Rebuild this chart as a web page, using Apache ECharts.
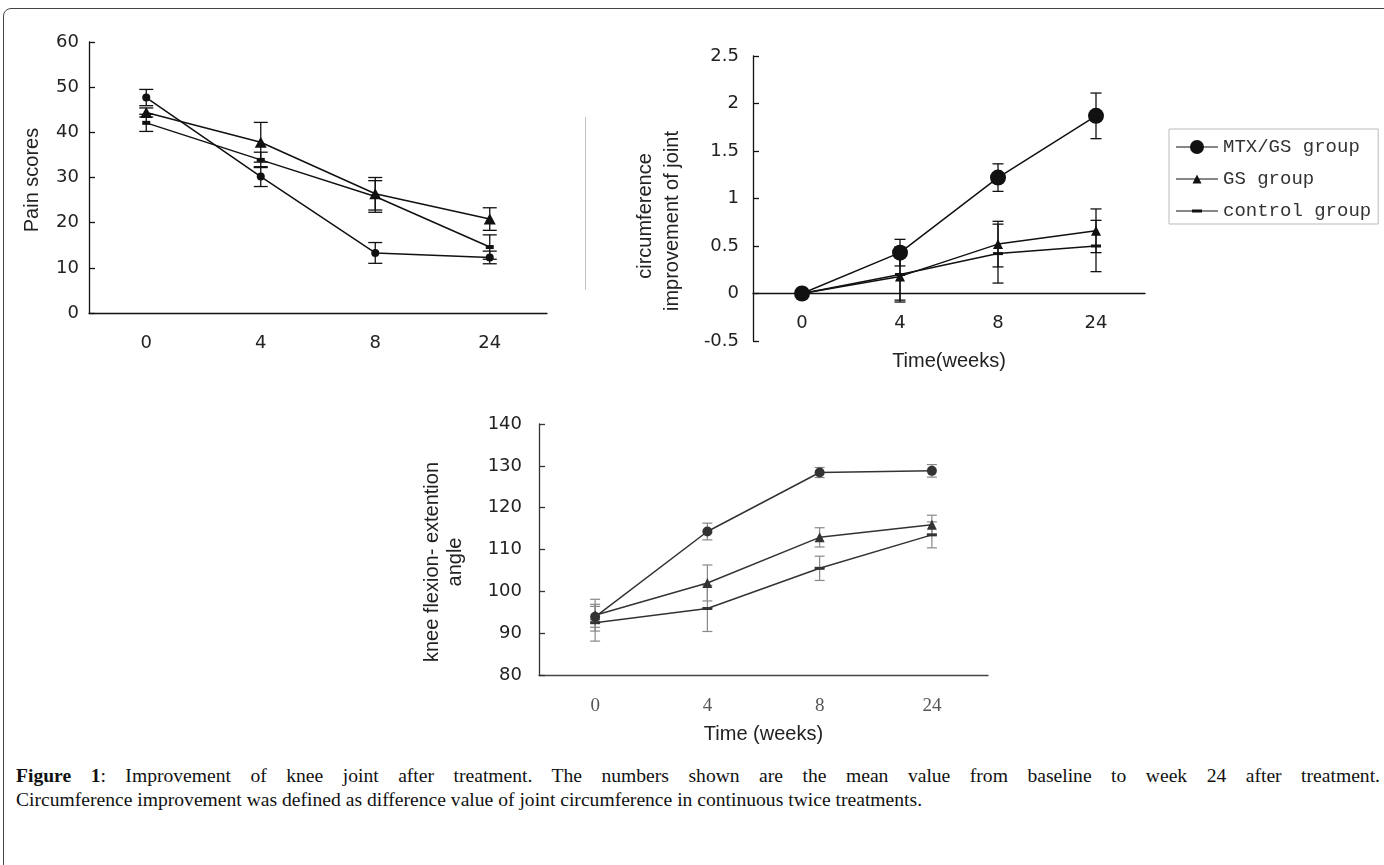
<!DOCTYPE html>
<html>
<head>
<meta charset="utf-8">
<script src="https://cdn.jsdelivr.net/npm/echarts@6/dist/echarts.min.js"></script>
<style>
html, body { margin: 0; width: 1384px; height: 865px; overflow: hidden; background: #fff; }
#frame { position: absolute; left: 3px; top: 8px; width: 1420px; height: 900px; border: 1.5px solid #444; border-radius: 8px; }
#chart { position: absolute; left: 0; top: 0; width: 1384px; height: 745px; }
#caption { position: absolute; left: 16px; top: 764px; width: 1364px; font-family: 'Liberation Serif', serif; font-size: 19.6px; line-height: 24px; color: #111; }
#caption .l1 { text-align: justify; text-align-last: justify; white-space: nowrap; }
</style>
</head>
<body>
<div id="frame"></div>
<div id="chart"></div>
<div id="caption">
  <div class="l1"><b>Figure 1</b>: Improvement of knee joint after treatment. The numbers shown are the mean value from baseline to week 24 after treatment.</div>
  <div>Circumference improvement was defined as difference value of joint circumference in continuous twice treatments.</div>
</div>
<script>
const weeks = ['0', '4', '8', '24'];
const groups = ['MTX/GS group', 'GS group', 'control group'];

// pain scores
const painMtx = [47.7, 30.2, 13.3, 12.3];
const painMtxErr = [1.8, 2.2, 2.3, 1.4];
const painGs = [44.4, 37.8, 26.4, 20.8];
const painGsErr = [1.0, 4.4, 3.6, 2.5];
const painCtrl = [42.1, 33.9, 25.8, 14.6];
const painCtrlErr = [1.9, 1.7, 3.5, 2.7];

// circumference improvement of joint
const circMtx = [0, 0.43, 1.22, 1.87];
const circMtxErr = [0, 0.14, 0.145, 0.24];
const circGs = [0, 0.18, 0.52, 0.66];
const circGsErr = [0, 0.25, 0.24, 0.23];
const circCtrl = [0, 0.20, 0.42, 0.50];
const circCtrlErr = [0, 0.29, 0.31, 0.27];

// knee flexion-extention angle
const angleMtx = [93.9, 114.3, 128.4, 128.8];
const angleMtxErr = [2.5, 2.0, 1.2, 1.5];
const angleGs = [94.3, 102.0, 112.9, 115.9];
const angleGsErr = [3.8, 4.3, 2.3, 2.3];
const angleCtrl = [92.5, 95.9, 105.5, 113.5];
const angleCtrlErr = [4.4, 5.5, 2.9, 3.1];

const sans = 'DejaVu Sans';

function catAxis(gi, opts) {
  return {
    gridIndex: gi, type: 'category', data: weeks, boundaryGap: true,
    axisLine: { lineStyle: { color: opts.line || '#111', width: 1.3 } },
    axisTick: { inside: true, length: 6, lineStyle: { color: opts.line || '#111', width: 1.3 } },
    axisLabel: { margin: opts.margin, fontFamily: opts.font || sans, fontSize: opts.size || 18, color: opts.color || '#222' },
    name: opts.name || '', nameLocation: 'middle', nameGap: opts.nameGap || 0,
    nameTextStyle: { fontFamily: 'Liberation Sans', fontSize: 20, color: '#222' },
    splitLine: { show: false }
  };
}

function valAxis(gi, min, max, interval, margin, color) {
  return {
    gridIndex: gi, type: 'value', min: min, max: max, interval: interval,
    axisLine: { show: true, lineStyle: { color: color || '#111', width: 1.3 } },
    axisTick: { show: true, inside: true, length: 6, lineStyle: { color: color || '#111', width: 1.3 } },
    axisLabel: { margin: margin, fontFamily: sans, fontSize: 18, color: '#222' },
    splitLine: { show: false }
  };
}

function lineSeries(name, gi, data, symbol, size, color) {
  return {
    name: name, type: 'line', xAxisIndex: gi, yAxisIndex: gi, data: data,
    symbol: symbol, symbolSize: size, z: 3,
    lineStyle: { color: color, width: 1.5 },
    itemStyle: { color: color }
  };
}

function errSeries(gi, vals, errs, cap, color, width) {
  const data = [];
  vals.forEach((v, i) => { if (errs[i] > 0) data.push([i, v - errs[i], v + errs[i]]); });
  return {
    type: 'custom', xAxisIndex: gi, yAxisIndex: gi, data: data, z: 2,
    encode: { x: 0, y: [1, 2] },
    renderItem: function (params, api) {
      const i = api.value(0);
      const lo = api.coord([i, api.value(1)]);
      const hi = api.coord([i, api.value(2)]);
      const st = { stroke: color, lineWidth: width };
      return { type: 'group', children: [
        { type: 'line', shape: { x1: lo[0], y1: lo[1], x2: hi[0], y2: hi[1] }, style: st },
        { type: 'line', shape: { x1: lo[0] - cap, y1: lo[1], x2: lo[0] + cap, y2: lo[1] }, style: st },
        { type: 'line', shape: { x1: hi[0] - cap, y1: hi[1], x2: hi[0] + cap, y2: hi[1] }, style: st }
      ] };
    }
  };
}

function vText(text, x, y) {
  return {
    type: 'text', x: x, y: y, rotation: Math.PI / 2,
    style: { text: text, align: 'center', verticalAlign: 'middle', font: '20px "Liberation Sans"', fill: '#222' }
  };
}

const chart = echarts.init(document.getElementById('chart'));
chart.setOption({
  animation: false,
  grid: [
    { left: 89, top: 42, width: 458, height: 271 },
    { left: 753, top: 56, width: 392, height: 285 },
    { left: 539, top: 424, width: 449, height: 255 }
  ],
  xAxis: [
    catAxis(0, { margin: 21 }),
    // labels and name sit just under the zero line, not the grid bottom
    catAxis(1, { margin: -27, name: 'Time(weeks)', nameGap: 10 }),
    catAxis(2, { margin: 22, font: 'Liberation Serif', size: 19, color: '#555', line: '#444', name: 'Time (weeks)', nameGap: 49 })
  ],
  yAxis: [
    valAxis(0, 0, 60, 10, 10),
    valAxis(1, -0.5, 2.5, 0.5, 14),
    valAxis(2, 80, 140, 10, 17, '#333')
  ],
  legend: {
    data: [
      { name: groups[0], icon: 'path://M0,6.5 H42 V7.5 H0 Z M21,0 A7,7 0 1 1 20.99,0 Z' },
      { name: groups[1], icon: 'path://M0,6.5 H42 V7.5 H0 Z M21,2.5 L25.5,11.5 L16.5,11.5 Z' },
      { name: groups[2], icon: 'path://M0,6.5 H42 V7.5 H0 Z M16,5.5 H26 V8.5 H16 Z' }
    ],
    orient: 'vertical', left: 1169, top: 129,
    itemWidth: 42, itemHeight: 14, itemGap: 12,
    padding: [8, 7, 3, 7],
    borderColor: '#bbb', borderWidth: 1,
    selectedMode: false,
    textStyle: { fontFamily: 'Liberation Mono', fontSize: 19, lineHeight: 20, color: '#333' }
  },
  graphic: [
    vText('Pain scores', 32, 180),
    vText('circumference', 645, 216),
    vText('improvement of joint', 672, 221),
    vText('knee flexion- extention', 432, 562),
    vText('angle', 455, 562),
    { type: 'line', shape: { x1: 585.5, y1: 117, x2: 585.5, y2: 290 }, style: { stroke: '#c4c4c4', lineWidth: 1 } }
  ],
  series: [
    errSeries(0, painMtx, painMtxErr, 7, '#111', 1.3),
    errSeries(0, painGs, painGsErr, 7, '#111', 1.3),
    errSeries(0, painCtrl, painCtrlErr, 7, '#111', 1.3),
    lineSeries(groups[0], 0, painMtx, 'circle', 8, '#111'),
    lineSeries(groups[1], 0, painGs, 'triangle', [12, 11], '#111'),
    lineSeries(groups[2], 0, painCtrl, 'rect', [8, 4], '#111'),

    errSeries(1, circMtx, circMtxErr, 5.5, '#111', 1.3),
    errSeries(1, circGs, circGsErr, 5.5, '#111', 1.3),
    errSeries(1, circCtrl, circCtrlErr, 5.5, '#111', 1.3),
    lineSeries(groups[0], 1, circMtx, 'circle', 16, '#111'),
    lineSeries(groups[1], 1, circGs, 'triangle', [10, 10], '#111'),
    lineSeries(groups[2], 1, circCtrl, 'rect', [10, 3], '#111'),

    errSeries(2, angleMtx, angleMtxErr, 5, '#888', 1.2),
    errSeries(2, angleGs, angleGsErr, 5, '#888', 1.2),
    errSeries(2, angleCtrl, angleCtrlErr, 5, '#888', 1.2),
    lineSeries(groups[0], 2, angleMtx, 'circle', 10, '#333'),
    lineSeries(groups[1], 2, angleGs, 'triangle', [10, 10], '#333'),
    lineSeries(groups[2], 2, angleCtrl, 'rect', [10, 3], '#333')
  ]
});
</script>
</body>
</html>
